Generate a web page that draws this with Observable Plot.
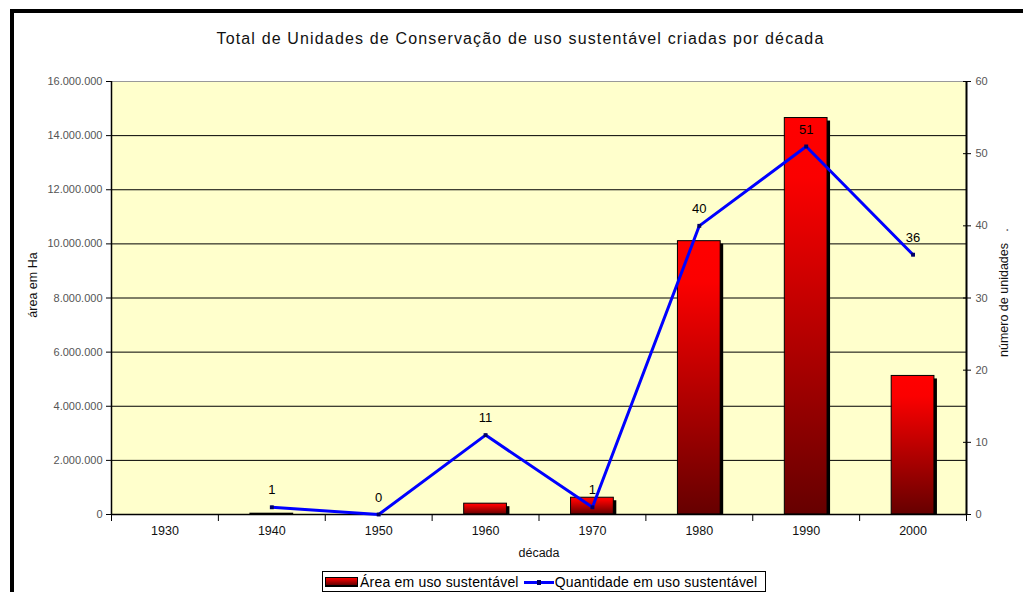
<!DOCTYPE html>
<html>
<head>
<meta charset="utf-8">
<script src="https://cdn.jsdelivr.net/npm/d3@7"></script>
<script src="https://cdn.jsdelivr.net/npm/@observablehq/plot@0.6"></script>
<style>
  html, body { margin: 0; padding: 0; background: #fff; overflow: hidden; }
  body { width: 1023px; height: 592px; position: relative; font-family: "Liberation Sans", Arial, sans-serif; }
  #frame { position: absolute; left: 10px; top: 9px; width: 1100px; height: 700px; border-left: 4px solid #000; border-top: 4px solid #000; box-sizing: border-box; }
  #title { position: absolute; left: 0; top: 30px; width: 1041px; text-align: center; font-size: 16px; letter-spacing: 1.15px; color: #111; }
  #legend { position: absolute; left: 322px; top: 571px; width: 444px; height: 21px; border: 1px solid #000; box-sizing: border-box; font-size: 14px; letter-spacing: 0.2px; color: #000; padding: 1px 0 0 2px; white-space: nowrap; line-height: 17px; }
  .sw { display: inline-block; vertical-align: middle; }
  #chart { position: absolute; left: 0; top: 0; }
</style>
</head>
<body>
<div id="chart"></div>
<div id="frame"></div>
<div id="title"></div>
<div id="legend"></div>
<script>
// ---- data ----
const decades = [1930, 1940, 1950, 1960, 1970, 1980, 1990, 2000];
const areaHa = [0, 30000, 0, 400000, 620000, 10100000, 14650000, 5120000];
const countDecades = [1940, 1950, 1960, 1970, 1980, 1990, 2000];
const counts = [1, 0, 11, 1, 40, 51, 36];
const leftTicks = [0, 2000000, 4000000, 6000000, 8000000, 10000000, 12000000, 14000000, 16000000];
const rightTicks = [0, 10, 20, 30, 40, 50, 60];
const seriesNames = ["Área em uso sustentável", "Quantidade em uso sustentável"];
const titleText = "Total de Unidades de Conservação de uso sustentável criadas por década";
const yLeftTitle = "área em Ha";
const yRightTitle = "número de unidades";
const xTitle = "década";

const leftMax = 16000000, rightMax = 60;
const k = leftMax / rightMax;

const barData = decades.map((d, i) => ({decade: d, area: areaHa[i]}));
const lineData = countDecades.map((d, i) => ({decade: d, count: counts[i]}));
const boundaries = d3.range(decades[0] - 5, decades[decades.length - 1] + 6, 10);

const fmt = d3.formatLocale({decimal: ",", thousands: ".", grouping: [3], currency: ["", ""]}).format(",d");
const one = [{}];

const svg = Plot.plot({
  width: 1023,
  height: 592,
  marginLeft: 111,
  marginRight: 57,
  marginTop: 81,
  marginBottom: 78,
  x: {domain: [boundaries[0], boundaries[boundaries.length - 1]], axis: null, label: null},
  y: {domain: [0, leftMax], axis: null, label: null},
  style: {fontFamily: "'Liberation Sans', Arial, sans-serif", background: "transparent", color: "#000"},
  marks: [
    Plot.frame({fill: "#FFFFCC"}),
    Plot.ruleY(leftTicks.slice(1, -1), {stroke: "#000", strokeWidth: 1}),
    Plot.ruleY([leftMax], {stroke: "#999", strokeWidth: 1}),
    // bar shadows
    Plot.rectY(barData.filter(d => d.area > 100000), {x1: d => d.decade - 2, x2: d => d.decade + 2, y: "area", fill: "#000", dx: 3, insetTop: 3}),
    // bars
    Plot.rectY(barData, {x1: d => d.decade - 2, x2: d => d.decade + 2, y: "area", fill: "url(#barGrad)", stroke: "#000", strokeWidth: 1}),
    // axis lines
    Plot.ruleX([boundaries[0]], {stroke: "#000", strokeWidth: 1.5}),
    Plot.ruleX([boundaries[boundaries.length - 1]], {stroke: "#000", strokeWidth: 2}),
    Plot.ruleY([0], {stroke: "#000", strokeWidth: 1.5}),
    // left axis
    Plot.axisY(leftTicks, {anchor: "left", label: null, tickFormat: fmt, tickSize: 5, tickPadding: 4, fontSize: 11, fill: "#555", stroke: "#000"}),
    // right axis (number of units)
    Plot.axisY(rightTicks.map(t => t * k), {anchor: "right", label: null, tickFormat: d => String(Math.round(d / k)), tickSize: 8, dx: -4, tickPadding: 5, fontSize: 11, fill: "#555", stroke: "#000"}),
    // x axis
    Plot.axisX(boundaries, {label: null, tickFormat: () => "", tickSize: 7, stroke: "#000"}),
    Plot.axisX(decades, {label: null, tickFormat: d => String(d), tickSize: 0, tickPadding: 12, fontSize: 12.5, fill: "#111"}),
    // line
    Plot.line(lineData, {x: "decade", y: d => d.count * k, stroke: "#0000FF", strokeWidth: 3}),
    Plot.dot(lineData, {x: "decade", y: d => d.count * k, symbol: "square", r: 2.2, fill: "#000066"}),
    Plot.text(lineData, {x: "decade", y: d => d.count * k, text: d => String(d.count), dy: -17, fontSize: 13, fill: "#000"}),
    // axis titles
    Plot.text(one, {frameAnchor: "left", textAnchor: "middle", text: () => yLeftTitle, rotate: -90, dx: -79, dy: -13, fontSize: 12.5, fill: "#111"}),
    Plot.text(one, {frameAnchor: "right", textAnchor: "middle", text: () => yRightTitle, rotate: -90, dx: 37, dy: 2, fontSize: 12.5, fill: "#111"}),
    Plot.text(one, {frameAnchor: "right", textAnchor: "middle", text: () => ".", rotate: -90, dx: 37, dy: -68, fontSize: 12.5, fill: "#111"}),
    Plot.text(one, {frameAnchor: "bottom", textAnchor: "middle", text: () => xTitle, dy: 42, fontSize: 12.5, fill: "#111"})
  ]
});

// gradient for the bars
const ns = "http://www.w3.org/2000/svg";
const defs = document.createElementNS(ns, "defs");
const grad = document.createElementNS(ns, "linearGradient");
grad.setAttribute("id", "barGrad");
grad.setAttribute("x1", "0"); grad.setAttribute("y1", "0");
grad.setAttribute("x2", "0"); grad.setAttribute("y2", "1");
[["0", "#ff0000"], ["0.15", "#fb0000"], ["1", "#660000"]].forEach(([o, c]) => {
  const s = document.createElementNS(ns, "stop");
  s.setAttribute("offset", o); s.setAttribute("stop-color", c);
  grad.appendChild(s);
});
defs.appendChild(grad);
svg.insertBefore(defs, svg.firstChild);
document.getElementById("chart").appendChild(svg);

document.getElementById("title").textContent = titleText;

// legend
const lg = document.getElementById("legend");
lg.innerHTML =
  '<span class="sw" style="width:31px;height:7px;border:1px solid #000;border-bottom-width:2px;background:linear-gradient(#ff0000,#660000);margin-right:2px"></span>' +
  '<span class="sw">' + seriesNames[0] + '</span>' +
  '<span class="sw" style="position:relative;width:30px;height:3px;background:#0000ff;margin:0 1px 0 5px"><span style="position:absolute;left:13px;top:-1px;width:4px;height:5px;background:#000066"></span></span>' +
  '<span class="sw">' + seriesNames[1] + '</span>';
</script>
</body>
</html>
